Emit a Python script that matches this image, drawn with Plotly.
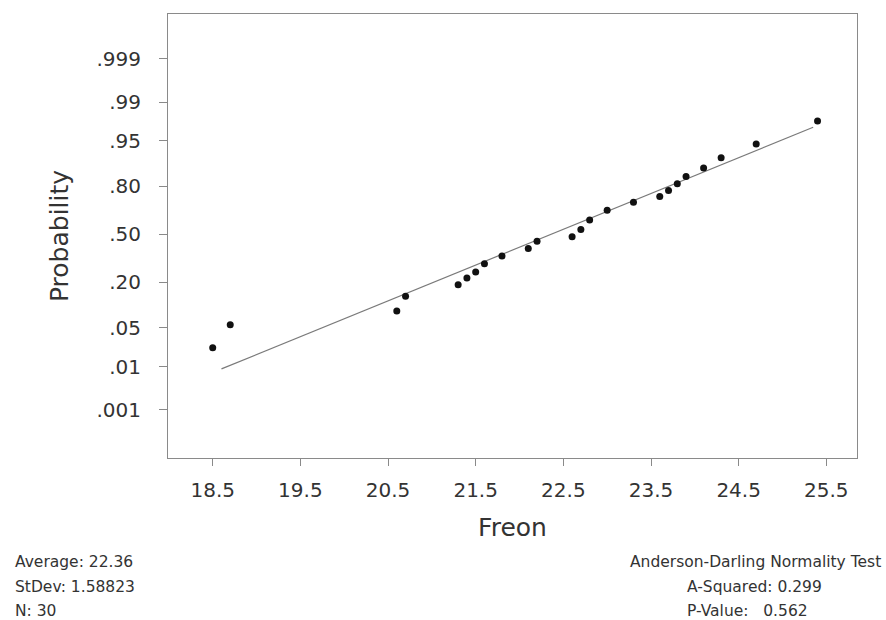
import plotly.graph_objects as go
from statistics import NormalDist

# ---- data ----
freon = [18.5, 18.7, 20.6, 20.7, 20.7, 21.3, 21.4, 21.5, 21.6, 21.6,
         21.8, 22.1, 22.1, 22.2, 22.6, 22.7, 22.7, 22.8, 22.8, 23.0,
         23.0, 23.3, 23.6, 23.7, 23.8, 23.9, 24.1, 24.3, 24.7, 25.4]
average = 22.36
stdev = 1.58823
prob_ticks = [0.001, 0.01, 0.05, 0.20, 0.50, 0.80, 0.95, 0.99, 0.999]
prob_labels = [".001", ".01", ".05", ".20", ".50", ".80", ".95", ".99", ".999"]
x_ticks = [18.5, 19.5, 20.5, 21.5, 22.5, 23.5, 24.5, 25.5]
x_labels = ["18.5", "19.5", "20.5", "21.5", "22.5", "23.5", "24.5", "25.5"]
stats_left = ["Average: 22.36", "StDev: 1.58823", "N: 30"]
stats_right_title = "Anderson-Darling Normality Test"
stats_right = ["A-Squared: 0.299", "P-Value:\u00a0\u00a0\u00a00.562"]

nd = NormalDist()
n = len(freon)
xs = sorted(freon)

# median-rank plotting positions (Benard), tied values share the mean rank
pts_x, pts_z = [], []
i = 0
while i < n:
    j = i
    while j + 1 < n and xs[j + 1] == xs[i]:
        j += 1
    r = (i + 1 + j + 1) / 2.0
    p = (r - 0.3) / (n + 0.4)
    pts_x.append(xs[i])
    pts_z.append(nd.inv_cdf(p))
    i = j + 1

# fitted normal line
line_x = [xs[0] + 0.1, xs[-1] - 0.05]
line_z = [(v - average) / stdev for v in line_x]

fig = go.Figure()
fig.add_trace(go.Scatter(x=line_x, y=line_z, mode="lines",
                         line=dict(color="#7a7a7a", width=1.2),
                         hoverinfo="skip", showlegend=False))
fig.add_trace(go.Scatter(x=pts_x, y=pts_z, mode="markers",
                         marker=dict(color="#111111", size=7),
                         showlegend=False))

L, R, T, B = 168, 857, 14, 458
W, H = 886, 620

def px(x):
    return (x - L) / (R - L)

def py(y):
    return (B - y) / (B - T)

font_tick = dict(family="DejaVu Sans", size=20, color="#333333")
font_title = dict(family="DejaVu Sans", size=25, color="#333333")
font_small = dict(family="DejaVu Sans", size=15.5, color="#333333")

fig.update_layout(
    width=W, height=H,
    margin=dict(l=L, r=W - R, t=T, b=H - B),
    paper_bgcolor="white", plot_bgcolor="white",
    xaxis=dict(range=[17.99, 25.85], tickvals=x_ticks, ticktext=x_labels,
               showgrid=False, zeroline=False, showline=True, mirror=True,
               linecolor="#8a8a8a", linewidth=1,
               ticks="outside", ticklen=7, tickcolor="#8a8a8a",
               tickfont=font_tick, ticklabelstandoff=7,
               title=dict(text="Freon", font=font_title, standoff=17)),
    yaxis=dict(range=[-3.935, 3.875],
               tickvals=[nd.inv_cdf(p) for p in prob_ticks], ticktext=prob_labels,
               showgrid=False, zeroline=False, showline=True, mirror=True,
               linecolor="#8a8a8a", linewidth=1,
               ticks="outside", ticklen=8, tickcolor="#8a8a8a",
               tickfont=font_tick, ticklabelstandoff=14,
               title=dict(text="Probability", font=font_title, standoff=20)),
)

ann = []
for k, t in enumerate(stats_left):
    ann.append(dict(text=t, x=px(13), y=py(562 + 24.5 * k), xref="paper", yref="paper",
                    xanchor="left", yanchor="middle", showarrow=False, font=font_small))
ann.append(dict(text=stats_right_title, x=px(883), y=py(562), xref="paper", yref="paper",
                xanchor="right", yanchor="middle", showarrow=False, font=font_small))
for k, t in enumerate(stats_right):
    ann.append(dict(text=t, x=px(685), y=py(586.5 + 24.5 * k), xref="paper", yref="paper",
                    xanchor="left", yanchor="middle", showarrow=False, font=font_small))
fig.update_layout(annotations=ann)

fig.write_html("out.html", config={"displayModeBar": False},
               post_script="document.body.style.margin='0';document.body.style.padding='0';")
